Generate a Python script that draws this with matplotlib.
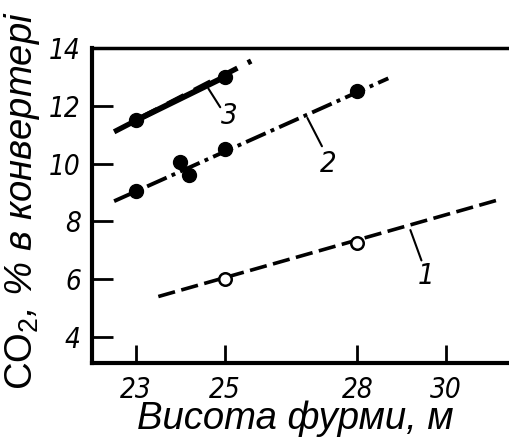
import matplotlib
matplotlib.use('Agg')
import matplotlib.pyplot as plt

plt.rcParams['mathtext.fontset'] = 'custom'
plt.rcParams['mathtext.rm'] = 'Liberation Sans'
plt.rcParams['mathtext.it'] = 'Liberation Sans:italic'

# measured points
x_open = [25, 28]
y_open = [6.0, 7.25]
x_s2 = [23, 24.0, 24.2, 25, 28]
y_s2 = [9.05, 10.05, 9.6, 10.5, 12.5]
x_s3 = [23, 25]
y_s3 = [11.5, 13.0]

# fitted lines (start / end)
line1_x = [23.5, 31.2]
line1_y = [5.4, 8.75]
line2_x = [22.5, 28.7]
line2_y = [8.7, 12.95]
line3_x = [22.5, 25.6]
line3_y = [11.1, 13.55]

# curve numbers: label, leader top, leader bottom, text position
curve_labels = ['1', '2', '3']
leader_top = [(29.2, 7.70), (26.87, 11.58), (24.63, 12.6)]
leader_bot = [(29.45, 6.65), (27.2, 10.6), (24.9, 11.95)]
label_pos = [(29.55, 6.1), (27.35, 10.0), (25.1, 11.65)]

xticks = [23, 25, 28, 30]
yticks = [4, 6, 8, 10, 12, 14]

fig = plt.figure(figsize=(5.09, 4.41), dpi=100)
ax = fig.add_axes([92/509, 1-363/441, 1-92/509, (363-48)/441])
ax.set_xlim(22.0, 31.43)
ax.set_ylim(3.1, 14)

ax.plot(line1_x, line1_y, color='k', lw=2.6, dashes=(4.8, 1.8))
ax.plot(line2_x, line2_y, color='k', lw=2.8, dashes=(5.5, 1.4, 1.0, 1.4))
ax.plot(line3_x, line3_y, color='k', lw=3.8, dashes=(3.5, 2.2))
ax.plot(x_s3, y_s3, color='k', lw=4.2, solid_capstyle='butt')

ax.plot(x_open, y_open, 'o', ms=9, mfc='white', mec='k', mew=1.8)
ax.plot(x_s2, y_s2, 'o', ms=10, color='k')
ax.plot(x_s3, y_s3, 'o', ms=10, color='k')

tickfont = dict(family='DejaVu Sans', style='italic', stretch='condensed')
for lab, p0, p1, pt in zip(curve_labels, leader_top, leader_bot, label_pos):
    ax.annotate('', xy=p0, xytext=p1,
                arrowprops=dict(arrowstyle='-', color='k', lw=1.5, shrinkA=0, shrinkB=0))
    ax.text(pt[0], pt[1], lab, fontsize=21, ha='center', va='center', **tickfont)

for s in ['left', 'bottom']:
    ax.spines[s].set_linewidth(3)
ax.spines['top'].set_linewidth(2.5)
ax.spines['right'].set_visible(False)

ax.set_xticks(xticks)
ax.set_yticks(yticks)
ax.tick_params(axis='both', direction='in', width=2, colors='k')
ax.tick_params(axis='x', length=13, pad=9)
ax.tick_params(axis='y', length=15, pad=8)
for t in ax.get_xticklabels() + ax.get_yticklabels():
    t.set_fontsize(20)
    t.set_style('italic')
    t.set_family('DejaVu Sans')
    t.set_stretch('condensed')

ax.set_xlabel('Висота фурми, м', fontsize=27.5, style='italic',
              family=['Liberation Sans', 'DejaVu Sans'])
ax.set_ylabel(r'$\mathrm{CO_2}$, % в конвертері', fontsize=27.5, style='italic',
              family=['Liberation Sans', 'DejaVu Sans'])
ax.xaxis.set_label_coords(0.487, -0.12)
ax.yaxis.set_label_coords(-0.12, 0.514)

plt.savefig('out.png', dpi=100)
